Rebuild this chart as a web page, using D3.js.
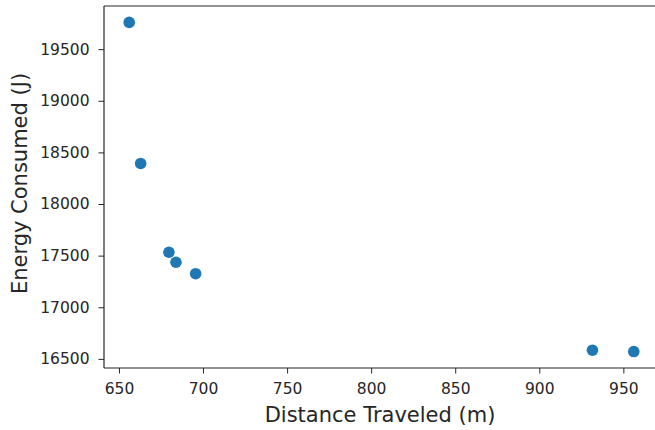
<!DOCTYPE html>
<html>
<head>
<meta charset="utf-8">
<script src="https://cdn.jsdelivr.net/npm/d3@7"></script>
<style>
html,body{margin:0;padding:0;background:#fff;}
svg{display:block;}
</style>
</head>
<body>
<svg id="chart" width="655" height="430"></svg>
<script>
const distance = [656.1, 662.9, 679.7, 683.9, 695.6, 931.6, 956.2];
const energy = [19759, 18393, 17533, 17436, 17325, 16584, 16571];
const xTicks = [650, 700, 750, 800, 850, 900, 950];
const yTicks = [16500, 17000, 17500, 18000, 18500, 19000, 19500];
const xLabel = "Distance Traveled (m)";
const yLabel = "Energy Consumed (J)";

(function () {
const svg = d3.select("#chart");
const mLeft = 104, mTop = 6, mRight = 659, mBottom = 368;
const font = "'DejaVu Sans', sans-serif";
const textColor = "#262626";

const x = d3.scaleLinear().domain([641.1, 971.2]).range([mLeft, mRight]);
const y = d3.scaleLinear().domain([16411.6, 19918]).range([mBottom, mTop]);

const xAxis = svg.append("g").attr("transform", `translate(0,${mBottom})`)
  .call(d3.axisBottom(x).tickValues(xTicks).tickSize(5.5).tickPadding(9).tickFormat(d3.format("d")));
const yAxis = svg.append("g").attr("transform", `translate(${mLeft},0)`)
  .call(d3.axisLeft(y).tickValues(yTicks).tickSize(5.5).tickPadding(9).tickFormat(d3.format("d")));

[xAxis, yAxis].forEach(g => {
  g.select(".domain").remove();
  g.selectAll(".tick line").attr("stroke", "#262626").attr("stroke-width", 1);
  g.selectAll(".tick text").attr("fill", textColor).style("font-family", font).style("font-size", "15.5px");
});

svg.append("line").attr("x1", mLeft).attr("x2", mLeft).attr("y1", mTop).attr("y2", mBottom)
  .attr("stroke", "#262626").attr("stroke-width", 1.2);
svg.append("line").attr("x1", mLeft).attr("x2", 655).attr("y1", mBottom).attr("y2", mBottom)
  .attr("stroke", "#262626").attr("stroke-width", 1.2);
svg.append("line").attr("x1", mLeft).attr("x2", 655).attr("y1", mTop).attr("y2", mTop)
  .attr("stroke", "#262626").attr("stroke-width", 1.2);

svg.append("g").selectAll("circle").data(distance).join("circle")
  .attr("cx", d => x(d))
  .attr("cy", (d, i) => y(energy[i]))
  .attr("r", 5.8)
  .attr("fill", "#1f77b4");

svg.append("text").attr("x", 380).attr("y", 421.5)
  .attr("text-anchor", "middle").attr("fill", textColor)
  .style("font-family", font).style("font-size", "21px").text(xLabel);

svg.append("text").attr("transform", `translate(26.5,183.5) rotate(-90)`)
  .attr("text-anchor", "middle").attr("fill", textColor)
  .style("font-family", font).style("font-size", "21px").text(yLabel);
})();
</script>
</body>
</html>
